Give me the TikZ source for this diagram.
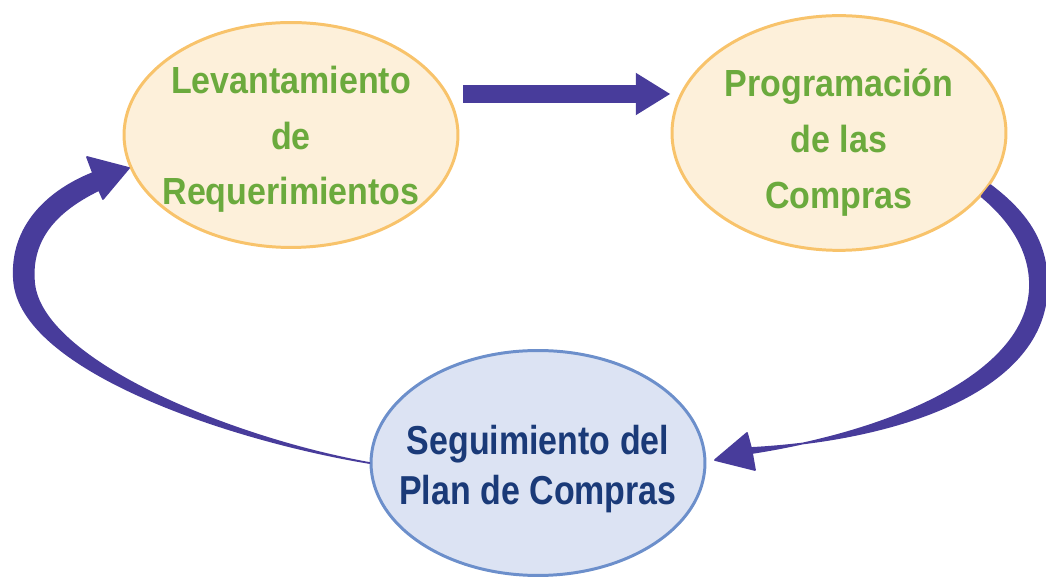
\documentclass[tikz,border=0pt]{standalone}
\usepackage{fontspec}
\newfontfamily\phasefont{Liberation Sans}[FakeStretch=0.9]
\newfontfamily\trackfont{Liberation Sans}[FakeStretch=0.84]
\usetikzlibrary{shapes.geometric}
\usetikzlibrary{arrows.meta}
\usetikzlibrary{calc}
\definecolor{cream}{HTML}{FDF0DA}
\definecolor{peach}{HTML}{F8C36B}
\definecolor{leafgreen}{HTML}{6BAA3D}
\definecolor{paleblue}{HTML}{DCE3F3}
\definecolor{steelblue}{HTML}{6C8FCB}
\definecolor{navy}{HTML}{1A3A78}
\definecolor{flowblue}{HTML}{483C9B}
\tikzset{phase/.style={ellipse,draw=peach,fill=cream,line width=1.7pt,
           minimum width=6.68cm,minimum height=4.5cm,inner xsep=-14pt,inner ysep=0pt,
           align=center,text=leafgreen,
           font=\phasefont\bfseries\fontsize{21.5}{31.7}\selectfont},
         track/.style={phase,draw=steelblue,fill=paleblue,text=navy,
           font=\trackfont\bfseries\fontsize{23}{28.5}\selectfont},
         flow/.style={fill=flowblue,draw=flowblue,line width=1pt,line join=round},
         push/.style={draw=flowblue,line width=10.2pt,-{Triangle[length=19.8pt,width=22.7pt]}},
         }

\begin{document}
\begin{tikzpicture}[x=0.02cm,y=-0.02cm]
\useasboundingbox (0,0) rectangle (1046,580);
\node[phase,text height=84pt] (lev) at (291,135) {Levantamiento\\de\\Requerimientos};
\node[phase,text height=90pt] (prog) at (839,133) {Programación\\de las\\Compras};
\node[track,text height=52pt] (seg) at (538,463) {Seguimiento del\\Plan de Compras};
\coordinate (tipL) at (129,168);
\coordinate (tipR) at (715,460);
% straight arrow on top
\draw[push] ($(lev.east)+(4,-41)$) -- ($(prog.west)+(0,-39)$);
% right, tapering down to seg
\filldraw[flow] (prog.-19) .. controls (1030,215) and (1047,245) .. (1047,285)
  .. controls (1047,390) and (900,440) .. (751,448)
  -- (747,433) -- (tipR) -- (755,470) -- (752,453)
  .. controls (900,430) and (1030,370) .. (1030,285)
  .. controls (1030,250) and (1010,220) .. (prog.-24) -- cycle;
% left, growing up to lev
\filldraw[flow] (seg.west) .. controls (230,440) and (20,370) .. (14,280)
  .. controls (10,225) and (50,190) .. (93,173)
  -- (87,157) -- (tipL) -- (103,199) -- (99,190)
  .. controls (62,208) and (30,235) .. (34,282)
  .. controls (40,360) and (230,438) .. (seg.west) -- cycle;
\end{tikzpicture}
\end{document}
